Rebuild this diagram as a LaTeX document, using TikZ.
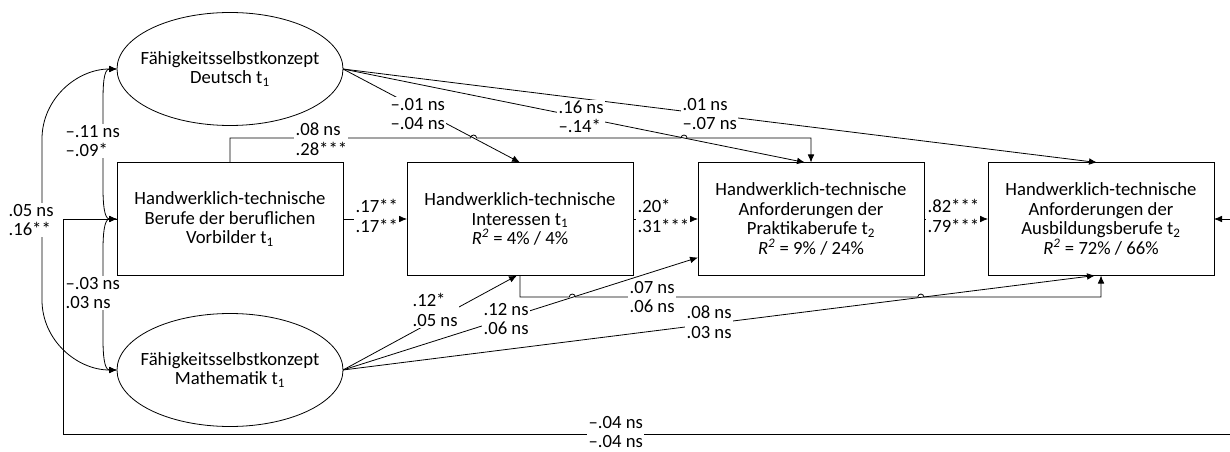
\documentclass[tikz,border=0pt]{standalone}
\usepackage{fontspec}
\setmainfont{Carlito}
\usetikzlibrary{arrows.meta,shapes.geometric}
\newcommand{\rsq}{\textit{R}\textsuperscript{\textit{2}}}
\tikzset{
  fx/.style={x=0.75pt, y=-0.75pt, font=\fontsize{14pt}{14.6pt}\selectfont},
  p box/.style={draw, line width=0.6pt, align=center, minimum width=169.5pt, minimum height=84.75pt, inner sep=1pt, outer sep=0pt},
  p lat/.style={p box, ellipse, inner xsep=-9pt},
  p lbl/.style={fill=white, align=left, inner sep=1pt, anchor=west},
  p arr/.style={-{Latex[length=6pt, width=5pt]}, line width=0.6pt},
  p cov/.style={{Latex[length=6pt, width=5pt]}-{Latex[length=6pt, width=5pt]}, line width=0.6pt},
}
\begin{document}
\begin{tikzpicture}[fx]
\useasboundingbox (0,0) rectangle (1230,452);
% predictors
\node[p lat] (deu) at (230,69) {Fähigkeitsselbstkonzept\\Deutsch t\textsubscript{1}};
\node[p box] (vor) at (230,219) {Handwerklich-technische\\Berufe der beruflichen\\Vorbilder t\textsubscript{1}};
\node[p lat] (mat) at (230,370) {Fähigkeitsselbstkonzept\\Mathematik t\textsubscript{1}};
% outcomes
\node[p box] (int) at (520,219) {Handwerklich-technische\\Interessen t\textsubscript{1}\\\rsq{} = 4\% / 4\%};
\node[p box] (pra) at (811,219) {Handwerklich-technische\\Anforderungen der\\Praktikaberufe t\textsubscript{2}\\\rsq{} = 9\% / 24\%};
\node[p box] (aus) at (1101,219) {Handwerklich-technische\\Anforderungen der\\Ausbildungsberufe t\textsubscript{2}\\\rsq{} = 72\% / 66\%};
% paths
\draw[p arr] (vor.east) -- (int.west);
\draw[p arr] (int.east) -- (pra.west);
\draw[p arr] (pra.east) -- (aus.west);
\draw[p arr] (deu.east) -- (int.north);
\draw[p arr] (deu.east) -- ([xshift=-4.5pt]pra.north);
\draw[p arr] (deu.east) -- ([xshift=-3pt]aus.north);
\draw[p arr] (mat.east) -- ([xshift=-2.25pt]int.south);
\draw[p arr] (mat.east) -- ([yshift=13.5pt]pra.south west);
\draw[p arr] (mat.east) -- ([xshift=-4.5pt]aus.south);
\draw[p arr] (vor.north) |- (470.6,138) arc[start angle=180, end angle=0, radius=2.25pt] -- (681,138) arc[start angle=180, end angle=0, radius=2.25pt] -| (pra.north);
\draw[p arr] (int.south) |- (569.3,297) arc[start angle=180, end angle=0, radius=2.25pt] -- (917.8,297) arc[start angle=180, end angle=0, radius=2.25pt] -| (aus.south);
\draw[p arr] (vor.west) -| (63,434) -| (1231,219) -- (aus.east);
% correlations
\draw[p cov] (deu.west) to[out=180, in=90] ++(-14,32) -- ++(0,88) to[out=-90, in=180] (vor.west);
\draw[p cov] (vor.west) to[out=180, in=90] ++(-14,30) -- ++(0,91) to[out=-90, in=180] (mat.west);
\draw[p cov] (deu.west) to[out=180, in=90] ++(-75,70) -- ++(0,161) to[out=-90, in=180] (mat.west);
% coefficients
\node[p lbl] (k1) at (64,141) {--.11 ns\\--.09*};
\node[p lbl] (k2) at (64,293) {--.03 ns\\.03 ns};
\node[p lbl] (k3) at (7,220) {.05 ns\\.16**};
\node[p lbl] (k4) at (294,139) {.08 ns\\.28***};
\node[p lbl] (k5) at (389,114) {--.01 ns\\--.04 ns};
\node[p lbl] (k6) at (557,117) {.16 ns\\--.14*};
\node[p lbl] (k7) at (681,114) {.01 ns\\--.07 ns};
\node[p lbl] (k8) at (354,216) {.17**\\.17**};
\node[p lbl] (k9) at (636,216) {.20*\\.31***};
\node[p lbl] (k10) at (926,216) {.82***\\.79***};
\node[p lbl] (k11) at (628,297) {.07 ns\\.06 ns};
\node[p lbl] (k12) at (411,310) {.12*\\.05 ns};
\node[p lbl] (k13) at (482,319) {.12 ns\\.06 ns};
\node[p lbl] (k14) at (685,322) {.08 ns\\.03 ns};
\node[p lbl] (k15) at (587,432) {--.04 ns\\--.04 ns};
\end{tikzpicture}
\end{document}
